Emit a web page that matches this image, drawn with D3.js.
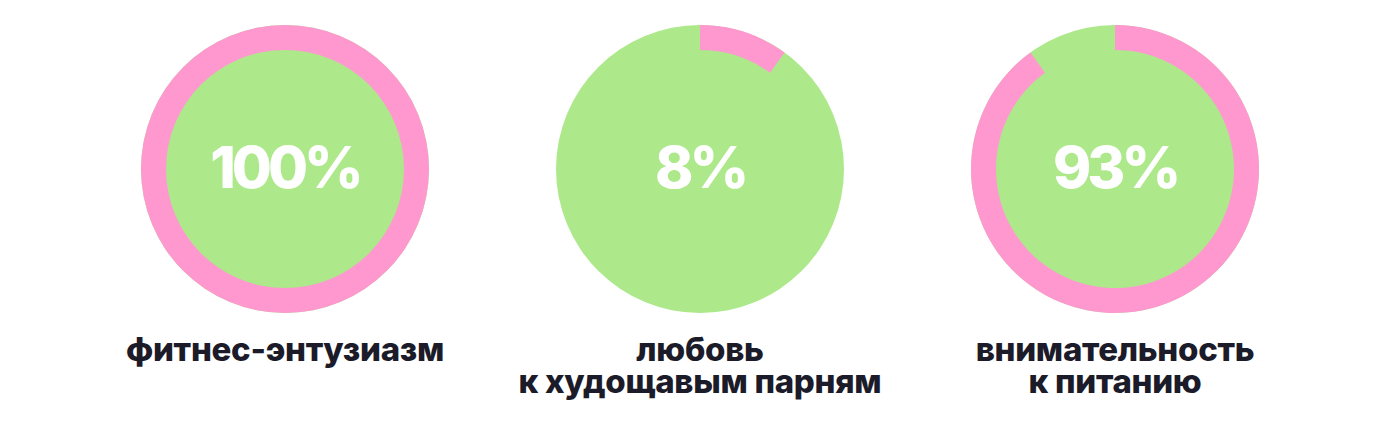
<!DOCTYPE html>
<html>
<head>
<meta charset="utf-8">
<script src="https://cdn.jsdelivr.net/npm/d3@7"></script>
<style>
  html, body { margin: 0; padding: 0; background: #ffffff; }
  svg { display: block; }
</style>
</head>
<body>
<svg id="chart" width="1398" height="438"></svg>
<script>
// ---- data ----
const categories = ["fitness", "thin", "nutrition"];
const percentLabels = ["100%", "8%", "93%"];
const arcShares = [100, 10, 90];          // share of the ring drawn in pink
const captionLines = [
  ["фитнес-энтузиазм"],
  ["любовь", "к худощавым парням"],
  ["внимательность", "к питанию"]
];

// ---- layout ----
const cy = 169, R = 144, ringW = 25;
const pink = "#fe98cf", green = "#ade88b", ink = "#1c1b29";

const svg = d3.select("#chart");

const x = d3.scalePoint().domain(categories).range([285, 1115]);
const angle = d3.scaleLinear().domain([0, 100]).range([0, 2 * Math.PI]);

const arc = d3.arc().innerRadius(R - ringW).outerRadius(R);

const g = svg.selectAll("g.donut")
  .data(categories)
  .join("g")
  .attr("class", "donut")
  .attr("transform", d => `translate(${x(d)},${cy})`);

g.append("circle")
  .attr("r", R)
  .attr("fill", green);

g.append("path")
  .attr("fill", pink)
  .attr("d", (d, i) => arc({ startAngle: 0, endAngle: angle(arcShares[i]) }));

g.append("text")
  .attr("text-anchor", "middle")
  .attr("y", 19)
  .attr("fill", "#ffffff")
  .style("font-family", "Inter, 'Liberation Sans', sans-serif")
  .style("font-weight", 800)
  .style("font-size", "58px")
  .style("letter-spacing", "-4px")
  .text((d, i) => percentLabels[i]);

const lines = categories.flatMap((d, i) =>
  captionLines[i].map((t, j) => ({ t, cx: x(d), j })));

svg.selectAll("text.caption")
  .data(lines)
  .join("text")
  .attr("class", "caption")
  .attr("text-anchor", "middle")
  .attr("fill", ink)
  .attr("x", d => d.cx)
  .attr("y", d => 361 + d.j * 32)
  .style("font-family", "Inter, 'Liberation Sans', sans-serif")
  .style("font-weight", 800)
  .style("font-size", "33px")
  .style("letter-spacing", "-0.3px")
  .text(d => d.t);
</script>
</body>
</html>
